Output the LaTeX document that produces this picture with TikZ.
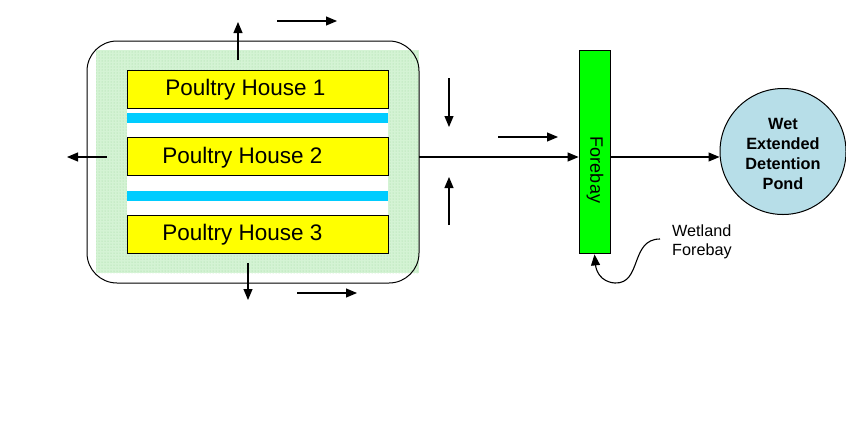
\documentclass[tikz,border=0pt]{standalone}
\usepackage{fontspec}
\setmainfont{Liberation Sans}
\usetikzlibrary{arrows.meta,patterns}
\definecolor{phyellow}{HTML}{FFFF00}
\definecolor{bandcyan}{HTML}{00CCFF}
\definecolor{foregreen}{HTML}{00FF00}
\definecolor{pondblue}{HTML}{B7DEE8}
\definecolor{sitegreen}{HTML}{D4F3D4}
\definecolor{dotgreen}{HTML}{9CD89C}
\tikzset{
  house/.style={draw, fill=phyellow, line width=0.8pt, minimum width=261pt, minimum height=38pt, inner sep=0pt},
  phtext/.style={font=\fontsize{22.5}{26}\selectfont, inner sep=0pt},
  flow/.style={-{Triangle[length=11pt,width=9pt]}, line width=1.1pt},
}
\begin{document}
\begin{tikzpicture}[x=1pt,y=-1pt]
\useasboundingbox (0,0) rectangle (846,424);
% site area
\fill[sitegreen] (96,50) rectangle (419,273);
\fill[pattern=dots, pattern color=dotgreen] (96,50) rectangle (419,273);
\node[draw, line width=1pt, rounded corners=30pt, minimum width=332pt, minimum height=242pt, inner sep=0pt] (site) at (253,162) {};
% strips between houses
\fill[white] (127,108) rectangle (388,137);
\fill[bandcyan] (127,113) rectangle (388,123);
\fill[white] (127,176) rectangle (388,215);
\fill[bandcyan] (127,191) rectangle (388,201);
% houses
\node[house] (ph1) at (257.5,89) {};
\node[house] (ph2) at (257.5,156.5) {};
\node[house] (ph3) at (257.5,234) {};
\node[phtext] (t1) at (245.5,90) {Poultry House 1};
\node[phtext] (t2) at (242.5,157.5) {Poultry House 2};
\node[phtext] (t3) at (242.5,235) {Poultry House 3};
% forebay
\node[draw, fill=foregreen, line width=0.8pt, minimum width=31pt, minimum height=203pt, inner sep=0pt] (fore) at (594.5,151.5) {};
\node[rotate=-90, font=\fontsize{18}{20}\selectfont, inner sep=0pt] (foretext) at (595,170) {Forebay};
% pond
\node[draw, circle, fill=pondblue, line width=1pt, minimum size=126pt, inner sep=0pt] (pond) at (783,151.5) {};
\node[align=center, font=\bfseries\fontsize{16.3}{20}\selectfont, inner sep=0pt] (pondtext) at (783,154) {Wet\\Extended\\Detention\\Pond};
% wetland label
\node[align=left, anchor=west, font=\fontsize{16.2}{19}\selectfont, inner sep=0pt] (wl) at (672,242) {Wetland\\Forebay};
% coordinates for free arrows
\coordinate (a1s) at (238,60);  \coordinate (a1e) at (238,22);
\coordinate (a2s) at (277,21);  \coordinate (a2e) at (337,21);
\coordinate (a3s) at (107,157); \coordinate (a3e) at (67,157);
\coordinate (a4s) at (248,263); \coordinate (a4e) at (248,300);
\coordinate (a5s) at (297,293); \coordinate (a5e) at (357,293);
\coordinate (a6s) at (449,78);  \coordinate (a6e) at (449,127);
\coordinate (a7s) at (449,225); \coordinate (a7e) at (449,177);
\coordinate (a8s) at (498,137); \coordinate (a8e) at (558,137);
\coordinate (out) at (419,157);
\coordinate (wlstart) at (660,239);
\draw[flow] (a1s) -- (a1e);
\draw[flow] (a2s) -- (a2e);
\draw[flow] (a3s) -- (a3e);
\draw[flow] (a4s) -- (a4e);
\draw[flow] (a5s) -- (a5e);
\draw[flow] (a6s) -- (a6e);
\draw[flow] (a7s) -- (a7e);
\draw[flow] (a8s) -- (a8e);
\draw[flow] (out) -- (fore.west |- out);
\draw[flow] (fore.east |- out) -- (pond.west |- out);
\draw[flow] (wlstart) .. controls (630,239) and (642,284) .. (615,283) .. controls (600,282) and (596,270) .. ([yshift=-1pt]fore.south);
\end{tikzpicture}
\end{document}
